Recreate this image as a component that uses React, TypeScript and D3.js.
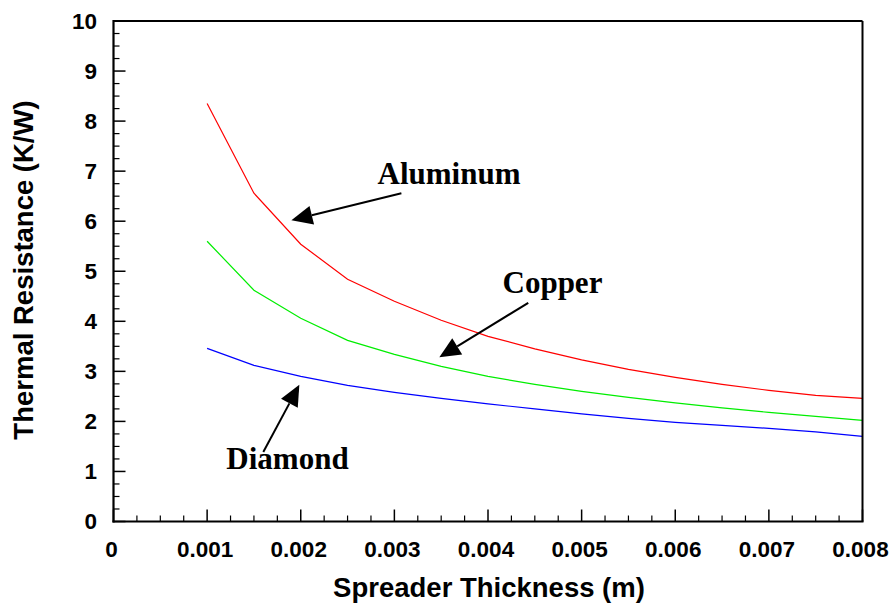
import React from "react";
import * as d3 from "d3";

const thickness = [0.001, 0.0015, 0.002, 0.0025, 0.003, 0.0035, 0.004, 0.0045, 0.005, 0.0055, 0.006, 0.0065, 0.007, 0.0075, 0.008];
const aluminum = [8.35, 6.56, 5.54, 4.84, 4.4, 4.02, 3.7, 3.45, 3.23, 3.04, 2.88, 2.74, 2.62, 2.52, 2.46];
const copper = [5.6, 4.62, 4.06, 3.62, 3.34, 3.1, 2.9, 2.74, 2.6, 2.48, 2.37, 2.27, 2.18, 2.1, 2.02];
const diamond = [3.46, 3.12, 2.9, 2.72, 2.58, 2.46, 2.35, 2.25, 2.15, 2.06, 1.98, 1.92, 1.86, 1.79, 1.7];

const xTicks = [0, 0.001, 0.002, 0.003, 0.004, 0.005, 0.006, 0.007, 0.008];
const xTickLabels = ["0", "0.001", "0.002", "0.003", "0.004", "0.005", "0.006", "0.007", "0.008"];
const yTicks = [0, 1, 2, 3, 4, 5, 6, 7, 8, 9, 10];

const seriesNames = ["Aluminum", "Copper", "Diamond"];
const seriesColors = ["#ff0000", "#00ee00", "#0000ff"];
const seriesValues = [aluminum, copper, diamond];

// annotation label positions and arrow [from, to] in data units
const labelAnchors = [
  { name: "Aluminum", x: 0.00282, y: 6.74, from: [0.003075, 6.56], to: [0.0019, 6.02] },
  { name: "Copper", x: 0.004155, y: 4.56, from: [0.00443, 4.37], to: [0.00348, 3.28] },
  { name: "Diamond", x: 0.001205, y: 1.05, from: [0.00160, 1.39], to: [0.001985, 2.73] },
];

const W = 894;
const H = 604;
const left = 113.5;
const right = 862.5;
const top = 21;
const bottom = 521.5;

export default function App() {
  const x = d3.scaleLinear().domain([0, 0.008]).range([left, right]);
  const y = d3.scaleLinear().domain([0, 10]).range([bottom, top]);

  const line = d3
    .line<[number, number]>()
    .x((d) => x(d[0]))
    .y((d) => y(d[1]));

  const xMinor = d3.range(0, 0.008 + 1e-9, 0.00025).filter((v) => Math.abs(v * 1000 - Math.round(v * 1000)) > 1e-6);
  const yMinor = d3.range(0, 10 + 1e-9, 0.25).filter((v) => Math.abs(v - Math.round(v)) > 1e-6);

  const sans = "'Liberation Sans', Arial, Helvetica, sans-serif";
  const serif = "'Liberation Serif', 'Times New Roman', serif";

  const arrow = (fx: number, fy: number, tx: number, ty: number, key: string) => {
    const x1 = x(fx), y1 = y(fy), x2 = x(tx), y2 = y(ty);
    const dx = x2 - x1, dy = y2 - y1;
    const len = Math.hypot(dx, dy);
    const ux = dx / len, uy = dy / len;
    const hl = 21, hw = 9.5;
    const bx = x2 - ux * hl, by = y2 - uy * hl;
    const pts = [
      [x2, y2],
      [bx - uy * hw, by + ux * hw],
      [bx + uy * hw, by - ux * hw],
    ];
    return (
      <g key={key}>
        <line x1={x1} y1={y1} x2={bx} y2={by} stroke="#000" strokeWidth={2} />
        <polygon points={pts.map((p) => p.join(",")).join(" ")} fill="#000" />
      </g>
    );
  };

  return (
    <svg width={W} height={H} style={{ position: "absolute", left: 0, top: 0, background: "#fff" }}>
      <rect x={0} y={0} width={W} height={H} fill="#fff" />
      {/* series */}
      {seriesValues.map((vals, i) => (
        <path
          key={seriesNames[i]}
          d={line(thickness.map((t, j) => [t, vals[j]] as [number, number])) || ""}
          fill="none"
          stroke={seriesColors[i]}
          strokeWidth={1.2}
        />
      ))}
      {/* frame */}
      <line x1={left} y1={top} x2={right} y2={top} stroke="#000" strokeWidth={2} />
      <line x1={right} y1={top} x2={right} y2={bottom} stroke="#000" strokeWidth={2} />
      <line x1={left} y1={top - 1} x2={left} y2={bottom + 1} stroke="#000" strokeWidth={2.2} />
      <line x1={left - 1} y1={bottom} x2={right + 1} y2={bottom} stroke="#000" strokeWidth={2.2} />
      {/* x ticks */}
      {xTicks.map((t) => (
        <line key={"xt" + t} x1={x(t)} x2={x(t)} y1={bottom} y2={bottom - 12} stroke="#000" strokeWidth={1.5} />
      ))}
      {xMinor.map((t) => (
        <line key={"xm" + t} x1={x(t)} x2={x(t)} y1={bottom} y2={bottom - 6} stroke="#000" strokeWidth={1.2} />
      ))}
      {/* y ticks */}
      {yTicks.map((t) => (
        <line key={"yt" + t} x1={left} x2={left + 12} y1={y(t)} y2={y(t)} stroke="#000" strokeWidth={1.5} />
      ))}
      {yMinor.map((t) => (
        <line key={"ym" + t} x1={left} x2={left + 6} y1={y(t)} y2={y(t)} stroke="#000" strokeWidth={1.2} />
      ))}
      {/* tick labels */}
      {xTicks.map((t, i) => (
        <text
          key={"xl" + t}
          x={x(t) - 2}
          y={557}
          textAnchor="middle"
          fontFamily={sans}
          fontWeight="bold"
          fontSize={22.5}
          fill="#000"
        >
          {xTickLabels[i]}
        </text>
      ))}
      {yTicks.map((t) => (
        <text
          key={"yl" + t}
          x={97}
          y={y(t) + 7.5}
          textAnchor="end"
          fontFamily={sans}
          fontWeight="bold"
          fontSize={22.5}
          fill="#000"
        >
          {t}
        </text>
      ))}
      {/* axis titles */}
      <text
        x={489}
        y={597}
        textAnchor="middle"
        fontFamily={sans}
        fontWeight="bold"
        fontSize={27.5}
        fill="#000"
      >
        Spreader Thickness (m)
      </text>
      <text
        transform="translate(33,270) rotate(-90)"
        textAnchor="middle"
        fontFamily={sans}
        fontWeight="bold"
        fontSize={27.5}
        fill="#000"
      >
        Thermal Resistance (K/W)
      </text>
      {/* annotations */}
      {labelAnchors.map((a) => (
        <g key={a.name}>
          <text x={x(a.x)} y={y(a.y)} fontFamily={serif} fontWeight="bold" fontSize={31} fill="#000">
            {a.name}
          </text>
          {arrow(a.from[0], a.from[1], a.to[0], a.to[1], a.name + "-arrow")}
        </g>
      ))}
    </svg>
  );
}
